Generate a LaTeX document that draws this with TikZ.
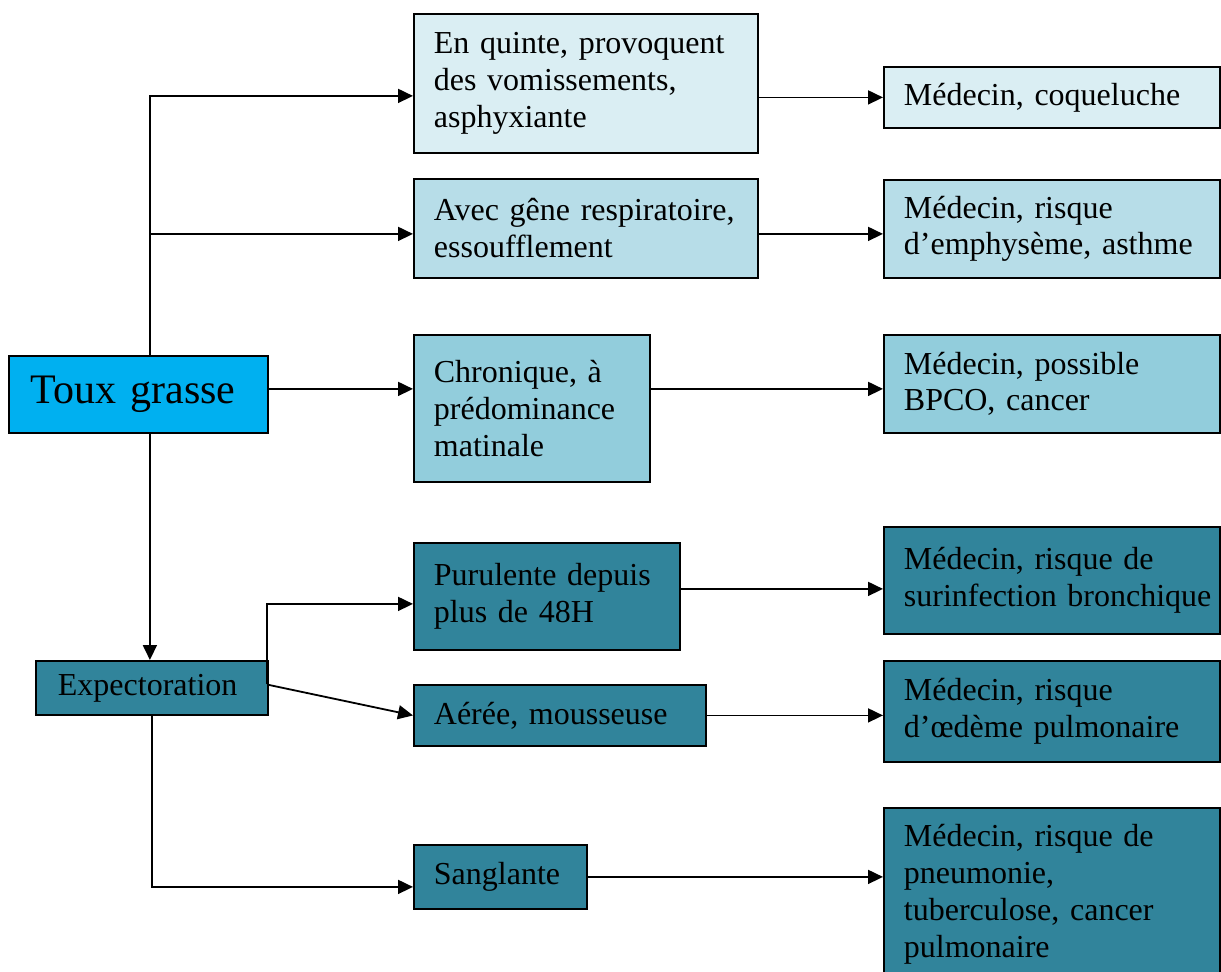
\documentclass[tikz,border=0pt]{standalone}
\usepackage{fontspec}
\setmainfont{Liberation Serif}
\usetikzlibrary{arrows.meta}
\definecolor{cA}{HTML}{DAEEF3}
\definecolor{cB}{HTML}{B7DDE8}
\definecolor{cC}{HTML}{92CDDC}
\definecolor{cD}{HTML}{31849B}
\definecolor{cT}{HTML}{00B0F0}
\tikzset{
  boxnode/.style={draw=black, line width=0.9pt, anchor=north west, inner xsep=10pt, inner ysep=0pt,
    align=left, font=\fontsize{16pt}{18.4pt}\selectfont},
  arr/.style={-{Triangle[length=7.5pt,width=7pt]}, line width=0.9pt}
}
\begin{document}
\begin{tikzpicture}[x=0.5pt,y=-0.5pt]
\useasboundingbox (0,0) rectangle (1221,971);
% left nodes
\node[boxnode, fill=cT, text width=107.5pt, inner xsep=11pt, minimum height=38.5pt,
      font=\fontsize{21pt}{24pt}\selectfont] (toux) at (8,355) {Toux grasse};
\node[boxnode, fill=cD, text width=94pt, inner xsep=11pt, minimum height=27pt] (expect) at (35,660) {Expectoration};
% middle column
\node[boxnode, fill=cA, text width=152pt, minimum height=69.5pt] (b1) at (413,13) {En quinte, provoquent\\des vomissements,\\asphyxiante};
\node[boxnode, fill=cB, text width=152pt, minimum height=49.5pt] (b2) at (413,178) {Avec~gêne~respiratoire,\\essoufflement};
\node[boxnode, fill=cC, text width=98pt, minimum height=73.5pt] (b3) at (413,334) {Chronique, à\\prédominance\\matinale};
\node[boxnode, fill=cD, text width=113pt, minimum height=53.5pt] (b4) at (413,542) {Purulente~depuis\\plus de 48H};
\node[boxnode, fill=cD, text width=126pt, minimum height=30.5pt] (b5) at (413,684) {Aérée, mousseuse};
\node[boxnode, fill=cD, text width=66.5pt, minimum height=32pt] (b6) at (413,844) {Sanglante};
% right column
\node[boxnode, fill=cA, text width=148pt, minimum height=30.5pt] (r1) at (883,66) {Médecin, coqueluche};
\node[boxnode, fill=cB, text width=148pt, minimum height=49pt] (r2) at (883,179) {Médecin, risque\\d’emphysème,~asthme};
\node[boxnode, fill=cC, text width=148pt, minimum height=49pt] (r3) at (883,334) {Médecin, possible\\BPCO, cancer};
\node[boxnode, fill=cD, text width=148pt, minimum height=53.5pt] (r4) at (883,526) {Médecin, risque de\\surinfection~bronchique};
\node[boxnode, fill=cD, text width=148pt, minimum height=50.5pt] (r5) at (883,660) {Médecin, risque\\d’œdème~pulmonaire};
\node[boxnode, fill=cD, text width=148pt, minimum height=86.5pt] (r6) at (883,807) {Médecin, risque de\\pneumonie,\\tuberculose, cancer\\pulmonaire};
% helper coordinates
\coordinate (tn) at ([xshift=5.75pt]toux.north);
\coordinate (b1in) at ([yshift=-6.25pt]b1.west);
\coordinate (b2in) at ([yshift=-2.75pt]b2.west);
\coordinate (b3in) at ([yshift=9.75pt]b3.west);
\coordinate (eup) at ([xshift=-0.75pt,yshift=1.75pt]expect.east);
\coordinate (b4in) at ([yshift=-3.75pt]b4.west);
\coordinate (b4out) at ([yshift=3.75pt]b4.east);
\coordinate (b6in) at ([yshift=-5pt]b6.west);
% connectors
\draw[arr] (tn) |- (b1in);
\draw[arr] (tn |- b2in) -- (b2in);
\draw[arr] (toux.east |- b3in) -- (b3in);
\draw[arr] (toux.south -| tn) -- (expect.north -| tn);
\draw[arr] (b1.east |- r1.west) -- (r1.west);
\draw[arr] (b2.east |- b2in) -- (b2in -| r2.west);
\draw[arr] (b3.east |- b3in) -- (b3in -| r3.west);
\draw[arr] (eup) |- (b4in);
\draw[arr] ([yshift=1.5pt]expect.east) -- (b5.west);
\draw[arr] (expect.south) |- (b6in);
\draw[arr] (b4out) -- (b4out -| r4.west);
\draw[arr] (b5.east) -- (b5.east -| r5.west);
\draw[arr] (b6.east) -- (b6.east -| r6.west);
\end{tikzpicture}
\end{document}
